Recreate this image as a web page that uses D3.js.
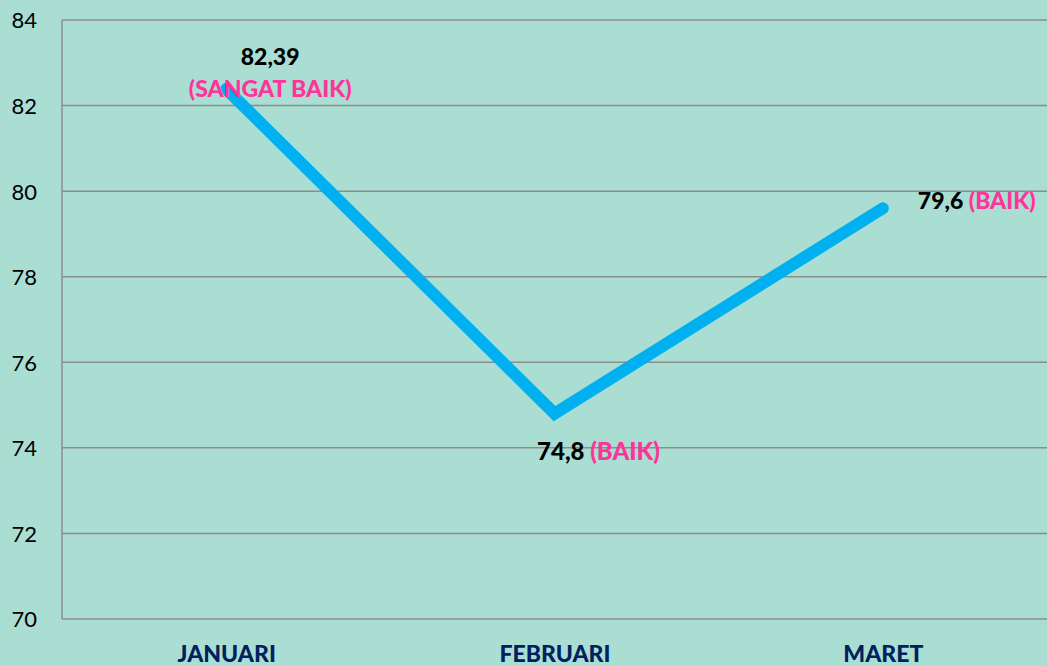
<!DOCTYPE html>
<html>
<head>
<meta charset="utf-8">
<script src="https://cdn.jsdelivr.net/npm/d3@7"></script>
<style>
  html, body { margin: 0; padding: 0; background: #aaded3; }
  svg { display: block; font-family: Lato, "Open Sans", sans-serif; }
</style>
</head>
<body>
<div id="chart"></div>
<script>
// données
const bulan = ["JANUARI", "FEBRUARI", "MARET"];
const nilai = [82.39, 74.8, 79.6];
const nilaiLabel = ["82,39", "74,8", "79,6"];
const kategori = ["(SANGAT BAIK)", "(BAIK)", "(BAIK)"];
const yTicks = [70, 72, 74, 76, 78, 80, 82, 84];

const W = 1047, H = 666;
const margin = { top: 20, right: 0, bottom: 47, left: 62 };
const width = W - margin.left - margin.right,
      height = H - margin.top - margin.bottom;

const svg = d3.select("#chart").append("svg")
    .attr("width", W).attr("height", H);

svg.append("rect").attr("width", W).attr("height", H).attr("fill", "#aaded3");

const g = svg.append("g")
    .attr("transform", "translate(" + margin.left + "," + margin.top + ")");

// échelles
const x = d3.scalePoint().domain(bulan).range([0, width]).padding(0.5);
const y = d3.scaleLinear().domain([70, 84]).range([height, 0]);

// grille
g.append("g")
    .selectAll("line")
    .data(yTicks)
    .join("line")
    .attr("x1", 0).attr("x2", width)
    .attr("y1", d => y(d)).attr("y2", d => y(d))
    .attr("stroke", "#8c8c8c").attr("stroke-width", 1.5);

g.append("line")
    .attr("x1", 0).attr("x2", 0).attr("y1", 0).attr("y2", height)
    .attr("stroke", "#8c8c8c").attr("stroke-width", 1.5);

// axe y
const yAxis = g.append("g")
    .call(d3.axisLeft(y).tickValues(yTicks).tickSize(0).tickPadding(25));
yAxis.select(".domain").remove();
yAxis.selectAll("text")
    .attr("font-size", 22).attr("fill", "#000").attr("dy", "0.36em")
    .attr("font-family", "Lato, 'Open Sans', sans-serif");

// axe x
const xAxis = g.append("g")
    .attr("transform", "translate(0," + height + ")")
    .call(d3.axisBottom(x).tickSize(0).tickPadding(27));
xAxis.select(".domain").remove();
xAxis.selectAll("text")
    .attr("font-size", 23).attr("font-weight", 900).attr("fill", "#002060")
    .attr("font-family", "Lato, 'Open Sans', sans-serif");

// ligne
const line = d3.line().x((d, i) => x(bulan[i])).y(d => y(d));
g.append("path")
    .datum(nilai)
    .attr("d", line)
    .attr("fill", "none")
    .attr("stroke", "#00b0f0")
    .attr("stroke-width", 12)
    .attr("stroke-linecap", "round")
    .attr("stroke-linejoin", "miter");

// étiquettes
const fs = 23;
// janvier : valeur au-dessus, catégorie en dessous
g.append("text")
    .attr("x", x(bulan[0]) + 44).attr("y", y(nilai[0]) - 24)
    .attr("text-anchor", "middle").attr("font-size", fs).attr("font-weight", 900)
    .attr("fill", "#000").text(nilaiLabel[0]);
g.append("text")
    .attr("x", x(bulan[0]) + 44).attr("y", y(nilai[0]) + 8)
    .attr("text-anchor", "middle").attr("font-size", fs).attr("font-weight", 900)
    .attr("fill", "#ff3399").text(kategori[0]);

// février : en dessous
const t1 = g.append("text")
    .attr("x", x(bulan[1]) + 44).attr("y", y(nilai[1]) + 46)
    .attr("text-anchor", "middle").attr("font-size", 24).attr("font-weight", 900);
t1.append("tspan").attr("fill", "#000").text(nilaiLabel[1] + " ");
t1.append("tspan").attr("fill", "#ff3399").text(kategori[1]);

// mars : à droite
const t2 = g.append("text")
    .attr("x", x(bulan[2]) + 35).attr("y", y(nilai[2]) + 1)
    .attr("text-anchor", "start").attr("font-size", fs).attr("font-weight", 900);
t2.append("tspan").attr("fill", "#000").text(nilaiLabel[2] + " ");
t2.append("tspan").attr("fill", "#ff3399").text(kategori[2]);
</script>
</body>
</html>
